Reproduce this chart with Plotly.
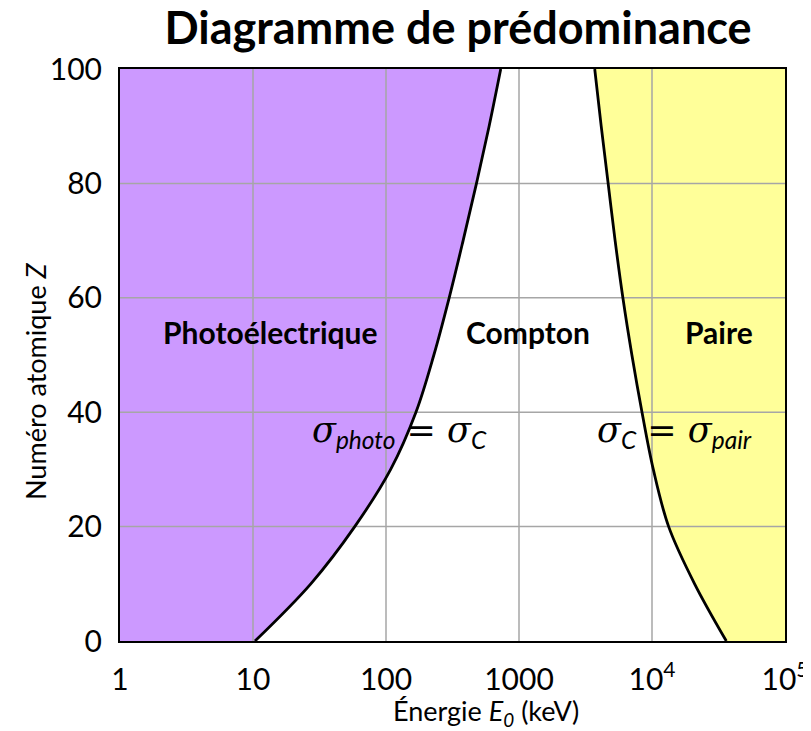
import plotly.graph_objects as go

# Frontière photoélectrique / Compton (E en keV, Z)
photo_E = [10.35, 27.2, 58.2, 108.4, 167.9, 229, 298.5, 380, 479, 596, 729]
photo_Z = [0, 10, 20, 30, 40, 50, 60, 70, 80, 90, 100]

# Frontière Compton / paire
pair_E = [36200, 20900, 13340, 10230, 8410, 7060, 6040, 5280, 4680, 4150, 3710]
pair_Z = [0, 10, 20, 30, 40, 50, 60, 70, 80, 90, 100]

tick_vals = [1, 10, 100, 1000, 1e4, 1e5]
tick_text = ["1", "10", "100", "1000", "10<sup>4</sup>", "10<sup>5</sup>"]
z_ticks = [0, 20, 40, 60, 80, 100]

E_min, E_max = 1, 1e5
Z_min, Z_max = 0, 100

font_main = "Lato, 'Open Sans', sans-serif"
grid_col = "#A6A6A6"

fig = go.Figure()

# bord gauche puis courbe photo : remplissage violet entre les deux
fig.add_trace(go.Scatter(x=[E_min, E_min], y=[Z_min, Z_max], mode="lines",
                         line=dict(width=0), hoverinfo="skip", showlegend=False))
fig.add_trace(go.Scatter(
    x=photo_E, y=photo_Z, mode="lines", fill="tonexty", fillcolor="#CC99FF",
    line=dict(width=0, shape="spline"), hoverinfo="skip", showlegend=False
))
# bord droit puis courbe paire : remplissage jaune
fig.add_trace(go.Scatter(x=[E_max, E_max], y=[Z_min, Z_max], mode="lines",
                         line=dict(width=0), hoverinfo="skip", showlegend=False))
fig.add_trace(go.Scatter(
    x=pair_E, y=pair_Z, mode="lines", fill="tonexty", fillcolor="#FFFF99",
    line=dict(width=0, shape="spline"), hoverinfo="skip", showlegend=False
))

# quadrillage par-dessus les zones colorées (mais sous les courbes)
gx, gy = [], []
for v in tick_vals[1:-1]:
    gx += [v, v, None]
    gy += [Z_min, Z_max, None]
for z in z_ticks[1:-1]:
    gx += [E_min, E_max, None]
    gy += [z, z, None]
fig.add_trace(go.Scatter(x=gx, y=gy, mode="lines", line=dict(color=grid_col, width=1.5),
                         hoverinfo="skip", showlegend=False))

# courbes frontières
for xs, ys in [(photo_E, photo_Z), (pair_E, pair_Z)]:
    fig.add_trace(go.Scatter(
        x=xs, y=ys, mode="lines", line=dict(color="black", width=2.8, shape="spline"),
        hoverinfo="skip", showlegend=False
    ))

annotations = []
# noms des zones (x en log10 pour un axe logarithmique)
for x, y, t in [(1.135, 54, "<b>Photoélectrique</b>"),
                (3.07, 54, "<b>Compton</b>"),
                (4.5, 54, "<b>Paire</b>")]:
    annotations.append(dict(x=x, y=y, text=t, showarrow=False,
                            font=dict(size=30, color="black", family=font_main)))

sub = "<sub><i><span style='font-family:Lato'>{}</span></i></sub>"
annotations.append(dict(
    x=2.10, y=36.5, showarrow=False,
    text="<i>σ</i>" + sub.format("photo") + " = <i>σ</i>" + sub.format("C"),
    font=dict(size=35, color="black", family="'DejaVu Serif', serif")))
annotations.append(dict(
    x=4.17, y=36.5, showarrow=False,
    text="<i>σ</i>" + sub.format("C") + " = <i>σ</i>" + sub.format("pair"),
    font=dict(size=35, color="black", family="'DejaVu Serif', serif")))

# titres des axes
annotations.append(dict(
    xref="paper", yref="paper", x=(486 - 120) / 665, y=-(712 - 641) / 572,
    text="Énergie <i>E<sub>0</sub></i> (keV)", showarrow=False,
    xanchor="center", yanchor="middle", font=dict(size=27, family=font_main)))
annotations.append(dict(
    xref="paper", yref="paper", x=-(120 - 35) / 665, y=(641 - 381) / 572,
    text="Numéro atomique <i>Z</i>", showarrow=False, textangle=-90,
    xanchor="center", yanchor="middle", font=dict(size=27, family=font_main)))

fig.update_layout(
    width=803, height=723,
    margin=dict(l=112, r=26, t=61, b=90),
    paper_bgcolor="white", plot_bgcolor="white",
    title=dict(text="<b>Diagramme de prédominance</b>", x=450 / 803, xanchor="center",
               y=0.9716, yanchor="middle",
               font=dict(size=45, color="black", family=font_main)),
    font=dict(family=font_main, color="black"),
    annotations=annotations,
    xaxis=dict(
        type="log", range=[0, 5], tickvals=tick_vals, ticktext=tick_text,
        showgrid=False, showline=True, linecolor="black", linewidth=2, mirror=True,
        ticks="", ticklabelstandoff=11, tickfont=dict(size=30),
        layer="above traces", zeroline=False, automargin=False,
    ),
    yaxis=dict(
        range=[Z_min, Z_max], tickvals=z_ticks,
        showgrid=False, showline=True, linecolor="black", linewidth=2, mirror=True,
        ticks="", ticklabelstandoff=10, tickfont=dict(size=30),
        layer="above traces", zeroline=False, automargin=False,
    ),
)

fig.write_html("out.html")
